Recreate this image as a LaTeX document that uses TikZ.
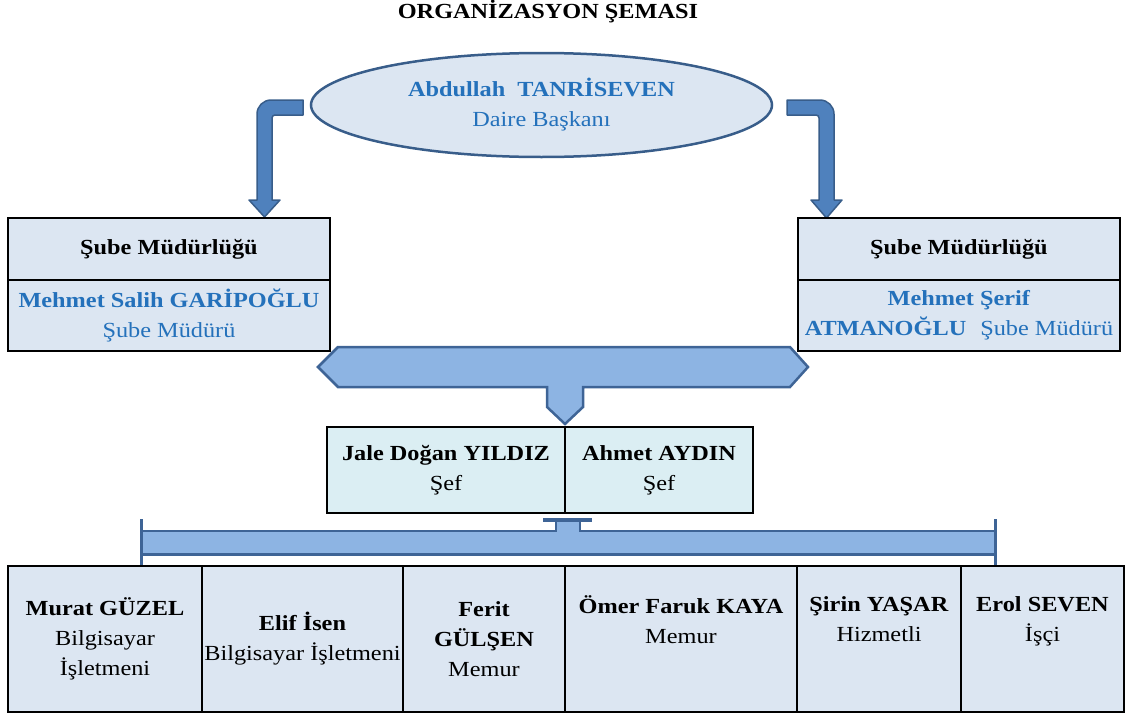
\documentclass[tikz,border=0pt]{standalone}
\usepackage{fontspec}
\setmainfont{Liberation Serif}[FakeStretch=1.13]
\usetikzlibrary{shapes.geometric,calc}
\definecolor{boxfill}{RGB}{220,230,242}
\definecolor{seffill}{RGB}{219,238,243}
\definecolor{arrowfill}{RGB}{79,129,189}
\definecolor{arrowdraw}{RGB}{56,93,138}
\definecolor{barfill}{RGB}{141,180,227}
\definecolor{bardraw}{RGB}{62,100,150}
\definecolor{bluetext}{RGB}{36,113,187}
\begin{document}
\begin{tikzpicture}[x=1pt,y=-1pt,
  every node/.style={font=\fontsize{21.5}{30}\selectfont, inner sep=0pt, align=center},
  box/.style={draw=black, line width=1.3pt, fill=boxfill},
  sefbox/.style={draw=black, line width=1.3pt, fill=seffill, minimum height=86},
  rowbox/.style={box, minimum height=146},
  bluebox/.style={box, text=bluetext},
  blockarrow/.style={fill=arrowfill, draw=arrowdraw, line width=1.5pt, line join=round},
  bracket/.style={fill=barfill, draw=bardraw, line width=2.5pt, line join=miter},
  barline/.style={draw=bardraw, line width=2.5pt}]
\useasboundingbox (0,0) rectangle (1133,715);

% title
\node[font=\bfseries\fontsize{21.5}{26}\selectfont] (title) at (548,12) {ORGANİZASYON ŞEMASI};

% block arrows
\draw[blockarrow] (303,100) -- (271,100) .. controls (263.3,100) and (257,106.3) .. (257,114)
  -- (257,200) -- (249,200) -- (264.5,217) -- (280,200) -- (272,200) -- (272,118)
  .. controls (272,116.3) and (273.3,115) .. (275,115) -- (303,115) -- cycle;
\draw[blockarrow] (787,100) -- (820,100) .. controls (827.7,100) and (834,106.3) .. (834,114)
  -- (834,200) -- (842,200) -- (826.5,218) -- (811,200) -- (819,200) -- (819,118)
  .. controls (819,116.3) and (817.7,115) .. (816,115) -- (787,115) -- cycle;

% head
\node[ellipse, draw=arrowdraw, line width=2.5pt, fill=boxfill, text=bluetext,
      minimum width=461, minimum height=104] (boss) at (541.5,105)
  {\textbf{Abdullah\hspace{12pt}TANRİSEVEN}\\Daire Başkanı};

% branch offices
\node[box, minimum width=322, minimum height=62] (lt) at (169,249) {\textbf{Şube Müdürlüğü}};
\node[bluebox, minimum width=322, minimum height=71] (lb) at (169,315.5)
  {\textbf{Mehmet Salih GARİPOĞLU}\\Şube Müdürü};
\node[box, minimum width=322, minimum height=62] (rt) at (959,249) {\textbf{Şube Müdürlüğü}};
\node[bluebox, minimum width=322, minimum height=71] (rb) at (959,315.5)
  {\textbf{Mehmet Şerif}\\\textbf{ATMANOĞLU}\hspace{14pt}Şube Müdürü};

% upper bracket
\draw[bracket] (318,367) -- (338,347) -- (790,347) -- (808,367) -- (790,387) -- (583,387)
  -- (583,407) -- (565,424) -- (547,407) -- (547,387) -- (338,387) -- cycle;

% chiefs
\node[sefbox, minimum width=238] (sefL) at (446,470) {\textbf{Jale Doğan YILDIZ}\\Şef};
\node[sefbox, minimum width=188] (sefR) at (659,470) {\textbf{Ahmet AYDIN}\\Şef};

% lower bar
\fill[barfill] (141,531) rectangle (995,554);
\fill[barfill] (556,521) rectangle (580,532);
\draw[barline] (141,531) -- (556,531) -- (556,521);
\draw[barline] (580,521) -- (580,531) -- (995,531);
\draw[barline, line width=3pt] (141,554) -- (995,554);
\draw[barline, line width=3.5pt] (543,520) -- (592,520);
\draw[barline, line width=3pt] (141,519) -- (141,568);
\draw[barline, line width=3pt] (995,519) -- (995,568);

% staff
\node[rowbox, minimum width=194] (s1) at (105,639) {\textbf{Murat GÜZEL}\\Bilgisayar\\İşletmeni};
\node[rowbox, minimum width=201] (s2) at (302.5,639) {\textbf{Elif İsen}\\Bilgisayar İşletmeni};
\node[rowbox, minimum width=162] (s3) at (484,639) {\textbf{Ferit}\\\textbf{GÜLŞEN}\\Memur};
\node[rowbox, minimum width=232] (s4) at (681,639) {\textbf{Ömer Faruk KAYA}\\Memur\\\strut};
\node[rowbox, minimum width=164] (s5) at (879,639) {\textbf{Şirin YAŞAR}\\Hizmetli\\\strut};
\node[rowbox, minimum width=163] (s6) at (1042.5,639) {\textbf{Erol SEVEN}\\İşçi\\\strut};
\end{tikzpicture}
\end{document}
